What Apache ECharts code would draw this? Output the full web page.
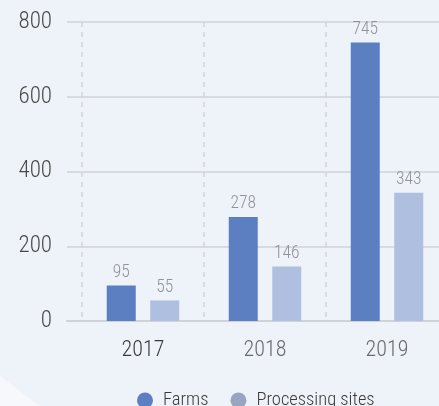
<!DOCTYPE html>
<html>
<head>
<meta charset="utf-8">
<style>
  html, body { margin: 0; padding: 0; background: #eef2f9; }
  #chart { width: 439px; height: 406px; }
</style>
<script src="https://cdn.jsdelivr.net/npm/echarts@6/dist/echarts.min.js"></script>
</head>
<body>
<div id="chart"></div>
<script>
const years = ['2017', '2018', '2019']
const farms = [95, 278, 745]
const processingSites = [55, 146, 343]
const yTicks = [0, 200, 400, 600, 800]

const chart = echarts.init(document.getElementById('chart'))

// narrow face looks closest to the reference lettering
const font = '"Roboto Condensed", "Liberation Sans Narrow", sans-serif'

chart.setOption({
  backgroundColor: '#eef2f9',
  textStyle: { fontFamily: font, fontWeight: 300 },
  graphic: [
    {
      type: 'polygon',
      shape: { points: [[0, 376], [40, 406], [0, 406]] },
      style: { fill: '#f6f8fc' },
      silent: true,
    },
  ],
  legend: {
    top: 391,
    left: 137,
    padding: 0,
    icon: 'circle',
    itemWidth: 16,
    itemHeight: 16,
    itemGap: 22,
    textStyle: { fontSize: 18.5, color: '#3a3a3a', fontFamily: font, fontWeight: 300, padding: [4, 0, 0, 5] },
    data: [
      { name: 'Farms', itemStyle: { color: '#5b7fc0' } },
      { name: 'Processing sites', itemStyle: { color: '#97a5c0' } },
    ],
  },
  grid: [
    { left: 67, right: 0, top: 22, bottom: 85, outerBoundsMode: 'none' },
    { left: 82, width: 366, top: 22, bottom: 85, outerBoundsMode: 'none' },
  ],
  xAxis: [
    {
      gridIndex: 0,
      type: 'category',
      data: years,
      axisLine: { show: true, lineStyle: { color: '#cfd2d8', width: 2 } },
      axisTick: { show: false },
      axisLabel: { show: false },
      splitLine: { show: false },
    },
    {
      gridIndex: 1,
      type: 'category',
      data: years.map((y, i) => ({
        value: y,
        textStyle: { color: i === 0 ? '#3a3a3a' : '#6a6a6a' },
      })),
      axisLine: { show: false },
      axisTick: { show: false },
      axisLabel: { fontSize: 22, margin: 18, fontFamily: font, fontWeight: 300 },
      splitLine: { show: true, lineStyle: { color: '#d3d5da', type: [5, 5], width: 1.5 } },
    },
  ],
  yAxis: [
    {
      gridIndex: 0,
      type: 'value',
      min: yTicks[0],
      max: yTicks[yTicks.length - 1],
      interval: 200,
      axisLine: { show: false },
      axisTick: { show: false },
      axisLabel: { fontSize: 23, color: '#4a4a4a', margin: 15, fontFamily: font, fontWeight: 300 },
      splitLine: { lineStyle: { color: '#cfd2d8', width: 1.5 } },
    },
    {
      gridIndex: 1,
      type: 'value',
      min: yTicks[0],
      max: yTicks[yTicks.length - 1],
      interval: 200,
      show: false,
      splitLine: { show: false },
    },
  ],
  series: [
    {
      name: 'Farms',
      type: 'bar',
      xAxisIndex: 1,
      yAxisIndex: 1,
      data: farms,
      barWidth: 29,
      barGap: '50%',
      itemStyle: { color: '#5b7fc0' },
      label: { show: true, position: 'top', distance: 4, color: '#909399', fontSize: 17.5, fontFamily: font, fontWeight: 300 },
    },
    {
      name: 'Processing sites',
      type: 'bar',
      xAxisIndex: 1,
      yAxisIndex: 1,
      data: processingSites,
      barWidth: 29,
      itemStyle: { color: '#aebfe0' },
      label: { show: true, position: 'top', distance: 4, color: '#909399', fontSize: 17.5, fontFamily: font, fontWeight: 300 },
    },
  ],
})
</script>
</body>
</html>
